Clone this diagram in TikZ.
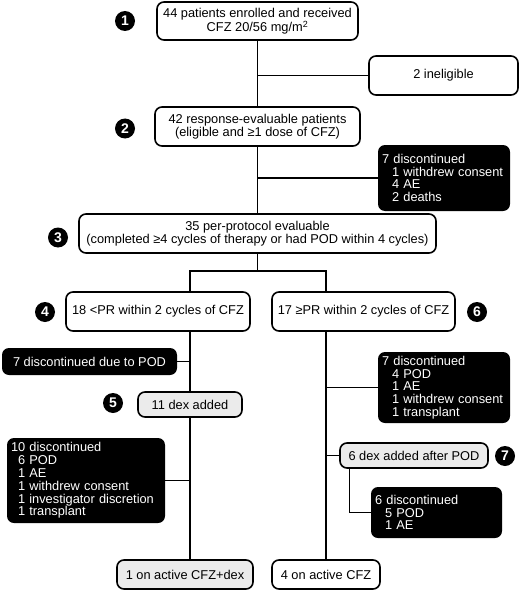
\documentclass[tikz,border=0pt]{standalone}
\usepackage{fontspec}
\setmainfont{Liberation Sans}
\usetikzlibrary{positioning,calc}
\definecolor{dexgray}{HTML}{EBEBEB}
\newcommand{\flowfont}{\fontsize{12.8}{12.8}\selectfont\hyphenpenalty=10000}

\begin{document}
\begin{tikzpicture}[
  x=1pt, y=-1pt,
  box/.style={
    draw,
    line width=1.6pt,
    fill=white,
    rounded corners=7pt,
    align=center,
    inner sep=2pt,
    font=\flowfont
  },
  dexbox/.style={box, fill=dexgray},
  blk/.style={
    fill=black,
    text=white,
    rounded corners=7pt,
    align=left,
    inner xsep=4pt,
    inner ysep=2pt,
    font=\flowfont
  },
  num/.style={
    circle,
    fill=black,
    text=white,
    minimum size=20pt,
    inner sep=0pt,
    font=\bfseries\fontsize{14}{14}\selectfont
  },
  link/.style={line width=1.4pt}
]
\useasboundingbox (0,0) rectangle (520,591);

% main column
\node[box, minimum width=201pt, minimum height=38pt] (n1) at (257.5,21) {
  44 patients enrolled and received\\
  CFZ 20/56 mg/m\textsuperscript{2}
};
\node[box, minimum width=149pt, minimum height=39pt] (inel) at (443.5,75.5) {2 ineligible};
\node[box, minimum width=205pt, minimum height=39pt] (n2) at (257.5,126.5) {
  42 response-evaluable patients\\
  (eligible and ≥1 dose of CFZ)
};
\node[blk, text width=124pt, minimum height=66pt] (disc7) at (444,178) {
  7 discontinued\\
  \hspace*{10pt}1 withdrew consent\\
  \hspace*{10pt}4 AE\\
  \hspace*{10pt}2 deaths
};
\node[box, minimum width=357pt, minimum height=39pt] (n3) at (257.5,233.5) {
  35 per-protocol evaluable\\
  (completed ≥4 cycles of therapy or had POD within 4 cycles)
};
\coordinate (split) at (257.5,271);

% two arms
\node[box, minimum width=184pt, minimum height=39pt] (n4) at (158,311.5) {18 <PR within 2 cycles of CFZ};
\node[box, minimum width=183pt, minimum height=39pt] (n6) at (363.5,311.5) {17 ≥PR within 2 cycles of CFZ};

% left arm
\node[blk, align=center, minimum width=175pt, minimum height=27pt] (podl) at (89.5,361.5) {7 discontinued due to POD};
\node[dexbox, minimum width=104pt, minimum height=25pt] (dex) at (190,404.5) {11 dex added};
\node[blk, text width=150pt, minimum height=85pt] (disc10) at (86,480.5) {
  10 discontinued\\
  \hspace*{7pt}6 POD\\
  \hspace*{7pt}1 AE\\
  \hspace*{7pt}1 withdrew consent\\
  \hspace*{7pt}1 investigator discretion\\
  \hspace*{7pt}1 transplant
};
\node[dexbox, minimum width=136pt, minimum height=29pt] (cfzdex) at (185,574.5) {1 on active CFZ+dex};

% right arm
\node[blk, text width=124pt, minimum height=71pt] (disc7r) at (444,387.5) {
  7 discontinued\\
  \hspace*{10pt}4 POD\\
  \hspace*{10pt}1 AE\\
  \hspace*{10pt}1 withdrew consent\\
  \hspace*{10pt}1 transplant
};
\node[dexbox, minimum width=148pt, minimum height=25pt] (dexr) at (414,455.5) {6 dex added after POD};
\node[blk, text width=123pt, minimum height=51pt] (disc6) at (436.5,512.5) {
  6 discontinued\\
  \hspace*{10pt}5 POD\\
  \hspace*{10pt}1 AE
};
\node[box, minimum width=108pt, minimum height=29pt] (act) at (326,574.5) {4 on active CFZ};

% step numbers
\node[num] (num1) at (125,21) {1};
\node[num] (num2) at (125,128.5) {2};
\node[num] (num3) at (58,237.5) {3};
\node[num] (num4) at (45,312) {4};
\node[num] (num5) at (113,403) {5};
\node[num] (num6) at (477,312) {6};
\node[num] (num7) at (505,456) {7};

% connectors
\draw[link] (n1) -- (n2);
\draw[link] (n1 |- inel.west) -- (inel.west);
\draw[link] (n2) -- (n3);
\draw[link] (n2 |- disc7.west) -- (disc7.west);
\draw[link] (n3.south) -- (split);
\draw[link] (n4.north -| dex) |- (split) -| (n6.north -| act);
\draw[link] (n4.south -| dex) -- (dex.north);
\draw[link] (podl.east) -- (podl.east -| dex);
\draw[link] (dex.south) -- (cfzdex.north -| dex);
\draw[link] (disc10.east) -- (disc10.east -| dex);
\draw[link] (n6.south -| act) -- (act.north);
\draw[link] (act |- disc7r.west) -- (disc7r.west);
\draw[link] (act |- dexr.west) -- (dexr.west);
\draw[link] ([xshift=10pt]dexr.south west) |- (disc6.west);

\end{tikzpicture}
\end{document}
